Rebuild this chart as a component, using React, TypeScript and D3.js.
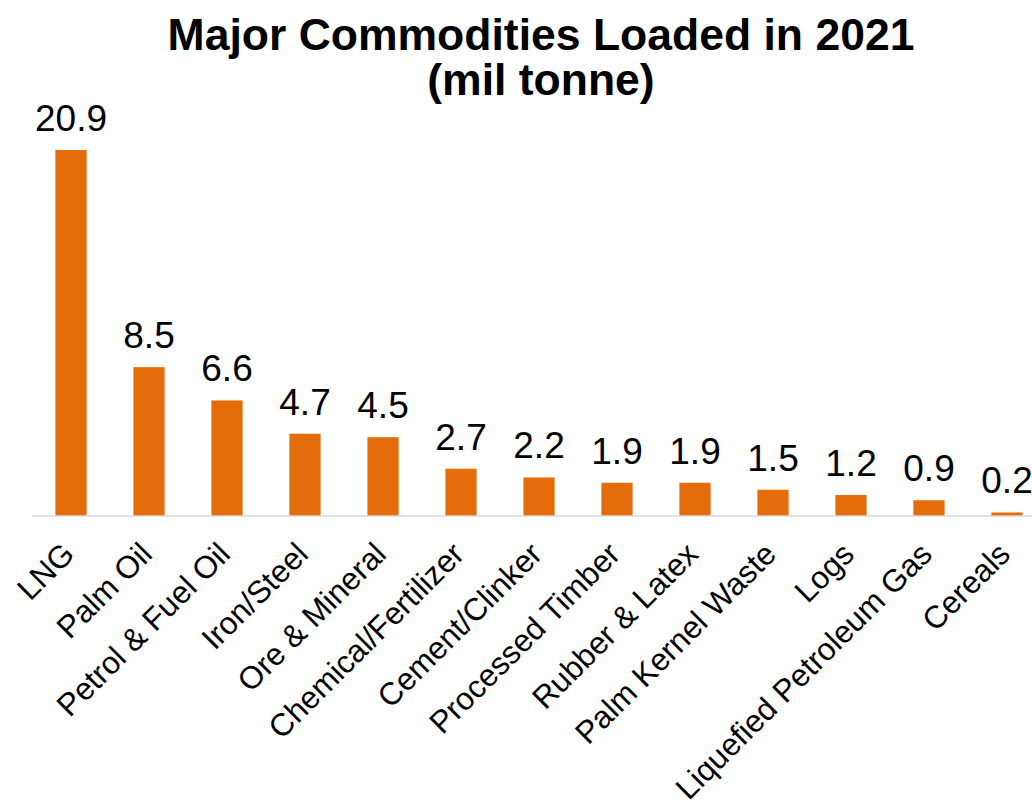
import React from "react";
import * as d3 from "d3";

const categories = [
  "LNG",
  "Palm Oil",
  "Petrol & Fuel Oil",
  "Iron/Steel",
  "Ore & Mineral",
  "Chemical/Fertilizer",
  "Cement/Clinker",
  "Processed Timber",
  "Rubber & Latex",
  "Palm Kernel Waste",
  "Logs",
  "Liquefied Petroleum Gas",
  "Cereals",
];
const values = [20.9, 8.5, 6.6, 4.7, 4.5, 2.7, 2.2, 1.9, 1.9, 1.5, 1.2, 0.9, 0.2];
const titleLines = ["Major Commodities Loaded in 2021", "(mil tonne)"];

const W = 1032;
const H = 808;
const FONT = "'Liberation Sans', Arial, sans-serif";
const BAR = "#E46C0A";

export default function App() {
  const x = d3
    .scaleBand<string>()
    .domain(categories)
    .range([32, 32 + 78 * categories.length])
    .paddingInner(0.6)
    .paddingOuter(0.3);
  const y = d3.scaleLinear().domain([0, 25]).range([516, 516 - 25 * 17.51]);

  return (
    <div style={{ position: "absolute", left: 0, top: 0 }}>
      <svg width={W} height={H} style={{ display: "block", background: "#fff" }}>
        <g fontFamily={FONT}>
          {titleLines.map((t, i) => (
            <text
              key={t}
              x={541}
              y={50 + i * 45}
              textAnchor="middle"
              fontWeight="bold"
              fontSize={44.5}
              fill="#000"
            >
              {t}
            </text>
          ))}
          {categories.map((c, i) => {
            const bx = x(c)!;
            const bw = x.bandwidth();
            const cx = bx + bw / 2;
            return (
              <g key={c}>
                <rect x={bx} y={y(values[i])} width={bw} height={y(0) - y(values[i])} fill={BAR} />
                <text
                  x={cx}
                  y={y(values[i]) - 19}
                  textAnchor="middle"
                  fontSize={37}
                  fill="#000"
                >
                  {values[i].toFixed(1)}
                </text>
                <text
                  transform={`translate(${cx + 5},${556}) rotate(-45)`}
                  textAnchor="end"
                  fontSize={31.5}
                  fill="#000"
                >
                  {c}
                </text>
              </g>
            );
          })}
          <line x1={32} x2={W} y1={y(0)} y2={y(0)} stroke="#d9d9d9" strokeWidth={1.5} />
        </g>
      </svg>
    </div>
  );
}
